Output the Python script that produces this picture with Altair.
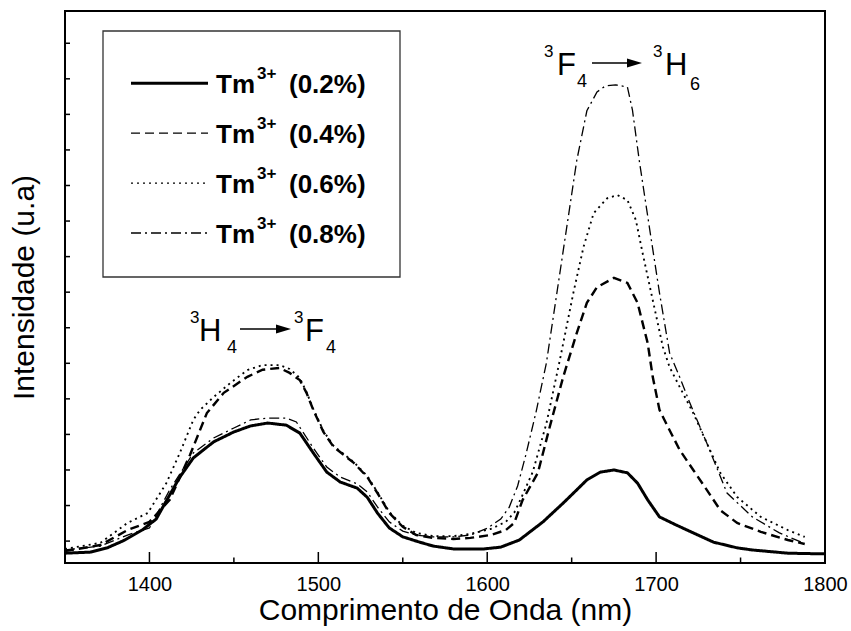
import altair as alt
import pandas as pd

# Emission spectra of Tm3+ doped samples (arbitrary intensity units)
wl_02 = [1350, 1365, 1375, 1385, 1396, 1404, 1412, 1418, 1426, 1438, 1450, 1460, 1470, 1481, 1489, 1497,
         1505, 1513, 1523, 1529, 1535, 1542, 1550, 1560, 1568, 1580, 1598, 1608, 1619, 1633, 1645, 1653,
         1659, 1667, 1675, 1683, 1689, 1695, 1702, 1712, 1722, 1734, 1748, 1757, 1778, 1800]
int_02 = [-0.34, -0.31, -0.19, 0.02, 0.32, 0.62, 1.3, 1.8, 2.34, 2.79, 3.07, 3.24, 3.32, 3.26, 3.04, 2.48,
          1.94, 1.66, 1.49, 1.23, 0.79, 0.37, 0.12, -0.03, -0.14, -0.22, -0.22, -0.17, 0.03, 0.54, 1.07, 1.44,
          1.72, 1.94, 2.0, 1.92, 1.63, 1.16, 0.68, 0.45, 0.23, -0.03, -0.19, -0.25, -0.34, -0.36]

wl_04 = [1350, 1371, 1387, 1400, 1412, 1424, 1434, 1444, 1458, 1467, 1477, 1483, 1489, 1493, 1497, 1503,
         1509, 1521, 1529, 1535, 1542, 1550, 1558, 1568, 1580, 1590, 1602, 1611, 1616, 1621, 1630, 1637,
         1645, 1653, 1659, 1665, 1675, 1683, 1689, 1695, 1698, 1702, 1707, 1714, 1722, 1730, 1738, 1748,
         1762, 1778, 1788]
int_04 = [-0.28, -0.11, 0.31, 0.54, 1.16, 2.42, 3.6, 4.17, 4.62, 4.82, 4.87, 4.73, 4.53, 4.17, 3.69, 3.07,
          2.65, 2.2, 1.8, 1.35, 0.79, 0.4, 0.17, 0.09, 0.06, 0.09, 0.17, 0.31, 0.51, 1.16, 1.92, 3.21,
          4.62, 5.85, 6.7, 7.14, 7.4, 7.26, 6.7, 5.57, 4.62, 3.69, 3.21, 2.56, 2.0, 1.44, 0.87, 0.51,
          0.26, 0.03, -0.08]

wl_06 = [1350, 1371, 1387, 1399, 1410, 1418, 1426, 1430, 1438, 1448, 1458, 1467, 1477, 1483, 1489, 1493,
         1497, 1503, 1509, 1521, 1529, 1535, 1542, 1550, 1558, 1568, 1580, 1590, 1602, 1611, 1616, 1620,
         1627, 1635, 1643, 1651, 1657, 1663, 1671, 1677, 1683, 1688, 1692, 1698, 1704, 1708, 1714, 1722,
         1730, 1738, 1748, 1762, 1778, 1788]
int_06 = [-0.22, -0.05, 0.51, 0.79, 1.63, 2.48, 3.41, 3.69, 4.05, 4.45, 4.81, 4.95, 4.95, 4.84, 4.59, 4.19,
          3.72, 3.1, 2.68, 2.22, 1.83, 1.38, 0.82, 0.43, 0.23, 0.14, 0.14, 0.2, 0.34, 0.54, 0.8, 1.2,
          1.95, 3.3, 5.09, 6.98, 8.27, 9.22, 9.64, 9.73, 9.59, 9.03, 8.1, 6.78, 5.46, 4.89, 4.33, 3.6,
          2.76, 1.92, 1.24, 0.68, 0.31, 0.12]

wl_08 = [1350, 1371, 1387, 1400, 1412, 1426, 1438, 1450, 1460, 1470, 1481, 1487, 1497, 1505, 1513, 1523,
         1529, 1535, 1542, 1550, 1558, 1568, 1580, 1590, 1600, 1608, 1613, 1618, 1623, 1629, 1635, 1641,
         1647, 1653, 1659, 1665, 1670, 1676, 1683, 1686, 1690, 1696, 1702, 1708, 1714, 1720, 1730, 1742,
         1757, 1773, 1787]
int_08 = [-0.25, -0.14, 0.17, 0.37, 1.44, 2.48, 2.9, 3.18, 3.41, 3.46, 3.46, 3.35, 2.62, 2.08, 1.8, 1.61,
          1.38, 0.96, 0.54, 0.28, 0.17, 0.12, 0.12, 0.17, 0.36, 0.62, 0.95, 1.55, 2.45, 3.65, 5.0, 6.9,
          8.8, 10.7, 12.1, 12.63, 12.8, 12.83, 12.77, 12.12, 10.71, 8.83, 6.98, 5.29, 4.61, 3.88, 2.76, 1.35,
          0.68, 0.23, -0.05]

concentrations = ["0.2%", "0.4%", "0.6%", "0.8%"]
x_labels = [1400, 1500, 1600, 1700, 1800]
x_major_ticks = [1400, 1500, 1600, 1700]
x_minor_ticks = [1450, 1550, 1650, 1750]
y_ticks = list(range(0, 15))

FONT = "Liberation Sans"
W, H = 760, 552

spectra = pd.concat(
    [pd.DataFrame({"wl": w, "intensity": i, "conc": c})
     for c, w, i in zip(concentrations, [wl_02, wl_04, wl_06, wl_08], [int_02, int_04, int_06, int_08])],
    ignore_index=True,
)

dash_styles = [[1, 0], [9, 5], [2, 4], [10, 4, 2, 4]]
line_widths = [3, 1.3, 1.3, 1.3]

x_scale = alt.Scale(domain=[1350, 1800], nice=False, zero=False)
y_scale = alt.Scale(domain=[-0.616, 14.907], nice=False, zero=False)

lines = alt.Chart(spectra).mark_line(color="black", clip=True).encode(
    x=alt.X("wl:Q", scale=x_scale,
            axis=alt.Axis(values=x_labels, format="d", ticks=False, domain=False, grid=False,
                          labelFont=FONT, labelFontSize=20, labelColor="black", labelPadding=11,
                          labelFlush=False, title="Comprimento de Onda (nm)", titleFont=FONT,
                          titleFontSize=30, titleFontWeight="normal", titleColor="black", titlePadding=1)),
    y=alt.Y("intensity:Q", scale=y_scale,
            axis=alt.Axis(labels=False, ticks=False, domain=False, grid=False,
                          title="Intensidade (u.a)", titleFont=FONT, titleFontSize=30,
                          titleFontWeight="normal", titleColor="black", titlePadding=26)),
    strokeDash=alt.StrokeDash("conc:N", scale=alt.Scale(domain=concentrations, range=dash_styles), legend=None),
    strokeWidth=alt.StrokeWidth("conc:O", scale=alt.Scale(domain=concentrations, range=line_widths), legend=None),
    detail="conc:N",
)

# inward ticks on the bottom and left axes
major = alt.Chart(pd.DataFrame({"t": x_major_ticks})).mark_rule(color="black", strokeWidth=1.5).encode(
    x=alt.X("t:Q", scale=x_scale), y=alt.value(H), y2=alt.value(H - 11))
minor = alt.Chart(pd.DataFrame({"t": x_minor_ticks})).mark_rule(color="black", strokeWidth=1.5).encode(
    x=alt.X("t:Q", scale=x_scale), y=alt.value(H), y2=alt.value(H - 5.5))
yticks = alt.Chart(pd.DataFrame({"t": y_ticks})).mark_rule(color="black", strokeWidth=1.5).encode(
    y=alt.Y("t:Q", scale=y_scale), x=alt.value(0), x2=alt.value(5))

one = pd.DataFrame({"k": [0]})

# legend box
layers = [lines, major, minor, yticks]
layers.append(alt.Chart(one).mark_rect(fill=None, stroke="#333333", strokeWidth=1.3).encode(
    x=alt.value(38), x2=alt.value(335), y=alt.value(20), y2=alt.value(266)))

for i, c in enumerate(concentrations):
    ly = 72.3 + 49.9 * i
    layers.append(alt.Chart(one).mark_rule(color="black").encode(
        x=alt.value(66), x2=alt.value(143), y=alt.value(ly),
        strokeDash=alt.value(dash_styles[i]), strokeWidth=alt.value(line_widths[i])))
    layers.append(alt.Chart(one).mark_text(text="Tm", font=FONT, fontSize=26, fontWeight="bold",
                                           align="left", baseline="alphabetic", color="black").encode(
        x=alt.value(151), y=alt.value(ly + 10)))
    layers.append(alt.Chart(one).mark_text(text="3+", font=FONT, fontSize=17, fontWeight="bold",
                                           align="left", baseline="alphabetic", color="black").encode(
        x=alt.value(192), y=alt.value(ly - 4)))
    layers.append(alt.Chart(one).mark_text(text=f"({c})", font=FONT, fontSize=26, fontWeight="bold",
                                           align="left", baseline="alphabetic", color="black").encode(
        x=alt.value(224), y=alt.value(ly + 10)))


def transition(pieces, arrow):
    """pieces: (text, x, baseline_y, size); arrow: (x_start, x_tip, y)."""
    out = []
    for txt, x, y, size in pieces:
        out.append(alt.Chart(one).mark_text(text=txt, font=FONT, fontSize=size, align="left",
                                            baseline="alphabetic", color="black").encode(
            x=alt.value(x), y=alt.value(y)))
    x0, tip, y = arrow
    out.append(alt.Chart(one).mark_rule(color="black", strokeWidth=1.3).encode(
        x=alt.value(x0), x2=alt.value(tip - 10), y=alt.value(y)))
    out.append(alt.Chart(one).mark_point(shape="M -1 -0.6 L 1 0 L -1 0.6 Z", filled=True, size=225,
                                         color="black", opacity=1).encode(
        x=alt.value(tip - 7.5), y=alt.value(y)))
    return out


# 3H4 -> 3F4
layers += transition([("3", 125, 312, 17), ("H", 134, 330, 31), ("4", 162, 342, 18),
                      ("3", 229, 312, 17), ("F", 240, 330, 31), ("4", 261, 342, 18)],
                     (175, 226, 318))
# 3F4 -> 3H6
layers += transition([("3", 479, 46, 17), ("F", 492, 64, 31), ("4", 512, 76, 18),
                      ("3", 588, 46, 17), ("H", 600, 64, 31), ("6", 625, 79, 18)],
                     (527, 577, 52))

chart = alt.layer(*layers).properties(
    width=W, height=H,
    autosize=alt.AutoSizeParams(type="none"),
    padding={"left": 65, "top": 11, "right": 26, "bottom": 68},
    background="white",
).configure_view(stroke="black", strokeWidth=2)

chart.save("out.html", embed_options={"renderer": "svg", "actions": False})
